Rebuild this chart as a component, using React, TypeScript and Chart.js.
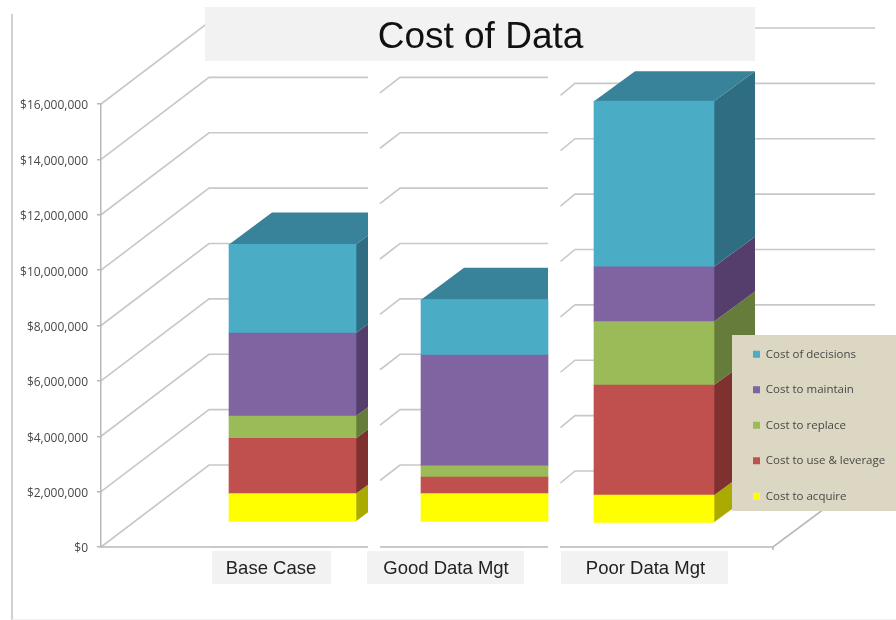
import React, { useEffect, useRef } from "react";
import { Chart, CategoryScale, registerables } from "chart.js";

const categories = ["Base Case", "Good Data Mgt", "Poor Data Mgt"];
const costToAcquire = [1000000, 1000000, 980000];
const costToUse = [2000000, 600000, 3980000];
const costToReplace = [800000, 400000, 2290000];
const costToMaintain = [3000000, 4000000, 1980000];
const costOfDecisions = [3200000, 2000000, 5980000];
const tickStep = 2000000;
const axisMax = 16000000;

const FRONT = ["#ffff00", "#c0504d", "#9bbb59", "#8064a2", "#4bacc6"];
const SIDE = ["#aaaa00", "#7f3130", "#667c3a", "#553e6c", "#2f6e82"];
const TOP = "#38829a";

// Layout of the three pasted slides that make up the picture
const BAR_CENTER = [292.5, 484.5, 654];
const BAR_WIDTH = [127, 127, 120];
const BAR_SHIFT_Y = [0, 0, 1];
const LABEL_CENTER = [271, 446, 645.5];
const LABEL_BOX = [[212, 331], [367, 524], [561, 728]];
const CLIP_RIGHT = [368, 548, 755];
const LIFT_PX = 25.7;
const PLOT_PX = 443;
const LIFT = (LIFT_PX / PLOT_PX) * axisMax;
const FONT = "'Open Sans', sans-serif";
const ARIAL = "'Liberation Sans', Arial, sans-serif";

class CollageScale extends CategoryScale {
  static id = "collage";
  static defaults = CategoryScale.defaults;
  getPixelForValue(value: number, index?: number) {
    const i = typeof index === "number" ? index : Number(value);
    return BAR_CENTER[i] ?? super.getPixelForValue(value as any);
  }
  getPixelForTick(index: number) {
    return LABEL_CENTER[index];
  }
}
Chart.register(...registerables, CollageScale as any);

function line(ctx: CanvasRenderingContext2D, pts: number[][], color: string, w: number) {
  ctx.beginPath();
  pts.forEach((p, i) => (i ? ctx.lineTo(p[0], p[1]) : ctx.moveTo(p[0], p[1])));
  ctx.strokeStyle = color;
  ctx.lineWidth = w;
  ctx.stroke();
}

function poly(ctx: CanvasRenderingContext2D, pts: number[][], color: string) {
  ctx.beginPath();
  pts.forEach((p, i) => (i ? ctx.lineTo(p[0], p[1]) : ctx.moveTo(p[0], p[1])));
  ctx.closePath();
  ctx.fillStyle = color;
  ctx.fill();
}

const depthPlugin = {
  id: "depth",
  afterDatasetsUpdate(chart: any) {
    chart.data.datasets.forEach((_: any, d: number) => {
      chart.getDatasetMeta(d).data.forEach((el: any, i: number) => {
        el.width = BAR_WIDTH[i];
        el.y += BAR_SHIFT_Y[i];
        el.base += BAR_SHIFT_Y[i];
      });
    });
  },
  afterLayout(chart: any) {
    const legend = chart.legend;
    const pad = legend.options.labels.padding;
    const w = legend.width;
    const h = legend.height;
    legend.left = 753 - pad;
    legend.right = legend.left + w;
    legend.top = 348.5 - pad;
    legend.bottom = legend.top + h;
    chart.scales.y.getLabelItems(chart.chartArea).forEach((item: any) => {
      item.textOffset += 2;
    });
  },
  beforeDraw(chart: any) {
    const ctx: CanvasRenderingContext2D = chart.ctx;
    const y = chart.scales.y;
    ctx.save();
    ctx.fillStyle = "#ffffff";
    ctx.fillRect(0, 0, chart.width, chart.height);
    line(ctx, [[12, 14], [12, 620]], "#c2c2c2", 1.5);
    line(ctx, [[12, 619.5], [896, 619.5]], "#f0f0f0", 1);

    const wall = "#c8c8c8";
    y.ticks.forEach((t: any) => {
      const py = y.getPixelForValue(t.value);
      const back = py - 82;
      line(ctx, [[101, py], [209, back], [368, back]], wall, 1.6);
      line(ctx, [[380, back + 15.5], [400, back], [548, back]], wall, 1.6);
      line(ctx, [[560.5, back + 18], [575, back + 6], [875, back + 6]], wall, 1.6);
    });
    const floor = y.getPixelForValue(0);
    line(ctx, [[101, floor], [368, floor]], "#b8b8b8", 1.6);
    line(ctx, [[380, floor], [548, floor]], "#b8b8b8", 1.6);
    line(ctx, [[560, floor], [773, floor], [875, floor - 76]], "#b8b8b8", 1.6);
    line(ctx, [[773, floor], [773, floor + 3]], "#b8b8b8", 1.6);

    ctx.fillStyle = "#f2f2f2";
    ctx.fillRect(205, 7, 550, 54);
    LABEL_BOX.forEach(([a, b]) => ctx.fillRect(a, 551, b - a, 33));
    ctx.restore();
  },
  beforeDatasetsDraw(chart: any) {
    const ctx: CanvasRenderingContext2D = chart.ctx;
    const count = chart.data.datasets.length;
    chart.data.datasets.forEach((_: any, d: number) => {
      chart.getDatasetMeta(d).data.forEach((el: any, i: number) => {
        const x1 = el.x - el.width / 2;
        const x2 = el.x + el.width / 2;
        const dx = i === 2 ? 41 : 43;
        const dy = i === 2 ? 30 : 32;
        ctx.save();
        ctx.beginPath();
        ctx.rect(0, 0, CLIP_RIGHT[i], chart.height);
        ctx.clip();
        poly(ctx, [[x2, el.y], [x2 + dx, el.y - dy], [x2 + dx, el.base - dy], [x2, el.base]], SIDE[d]);
        if (d === count - 1) {
          poly(ctx, [[x1, el.y], [x1 + dx, el.y - dy], [x2 + dx, el.y - dy], [x2, el.y]], TOP);
        }
        ctx.restore();
      });
    });
  },
  afterDatasetsDraw(chart: any) {
    const ctx: CanvasRenderingContext2D = chart.ctx;
    ctx.save();
    ctx.fillStyle = "#dcd7c2";
    ctx.fillRect(732, 335, 164, 176);
    ctx.restore();
    chart.legend.draw();
  },
};

const seriesNames = ["Cost to acquire", "Cost to use & leverage", "Cost to replace", "Cost to maintain", "Cost of decisions"];
const seriesValues = [costToAcquire, costToUse, costToReplace, costToMaintain, costOfDecisions];

export default function App() {
  const ref = useRef<HTMLCanvasElement>(null);
  useEffect(() => {
    const chart = new Chart(ref.current as HTMLCanvasElement, {
      type: "bar",
      data: {
        labels: categories,
        datasets: seriesNames.map((label, i) => ({
          label,
          data: seriesValues[i],
          backgroundColor: FRONT[i],
          yAxisID: "yBar",
          barThickness: 127,
          clip: false as any,
        })),
      },
      options: {
        responsive: false,
        animation: false,
        events: [],
        layout: { padding: { left: 0, right: 36, top: 0, bottom: 0 } },
        scales: {
          x: {
            type: "collage" as any,
            stacked: true,
            grid: { display: false },
            border: { display: false },
            ticks: {
              autoSkip: false,
              maxRotation: 0,
              padding: 3,
              color: "#222222",
              font: { family: ARIAL, size: 18.5 },
            },
            afterFit: (s: any) => { s.height = 73; },
          },
          y: {
            min: 0,
            max: axisMax,
            grid: { drawOnChartArea: false, color: "#b8b8b8", tickLength: 4, lineWidth: 1.5 },
            border: { color: "#b8b8b8", width: 1.5 },
            ticks: {
              stepSize: tickStep,
              padding: 9,
              color: "#484848",
              font: { family: FONT, size: 12 },
              callback: (v: any) => "$" + Number(v).toLocaleString("en-US"),
            },
            afterFit: (s: any) => { s.width = 101; },
          },
          yBar: {
            display: false,
            stacked: true,
            min: -LIFT,
            max: axisMax - LIFT,
          },
        },
        plugins: {
          tooltip: { enabled: false },
          title: {
            display: true,
            text: "Cost of Data",
            color: "#111111",
            fullSize: false,
            font: { family: ARIAL, size: 37, weight: "normal", lineHeight: 1 },
            padding: { top: 19, bottom: 48 },
          },
          legend: {
            display: true,
            position: "chartArea",
            reverse: true,
            align: "start",
            labels: {
              boxWidth: 7,
              boxHeight: 7,
              padding: 24,
              color: "#484848",
              font: { family: FONT, size: 11.5 },
            },
          },
        },
      },
      plugins: [depthPlugin as any],
    } as any);
    return () => chart.destroy();
  }, []);
  return (
    <div style={{ position: "fixed", left: 0, top: 0, width: 896, height: 620 }}>
      <canvas ref={ref} width={896} height={620} style={{ display: "block", filter: "blur(0.5px)" }} />
    </div>
  );
}
